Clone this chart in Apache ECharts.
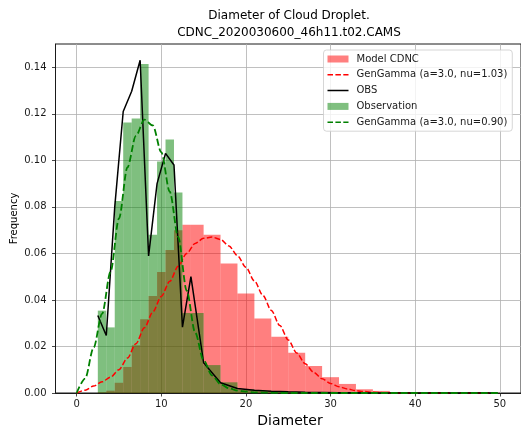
<!DOCTYPE html>
<html>
<head>
<meta charset="utf-8">
<script src="https://cdn.jsdelivr.net/npm/echarts@6/dist/echarts.min.js"></script>
<style>
  html, body { margin: 0; padding: 0; background: #fff; }
  #chart { width: 521px; height: 429px; }
</style>
</head>
<body>
<div id="chart"></div>
<script>
// Histogram bin edges (um) shared by both size distributions
const binEdges = [2.5, 3.5, 4.5, 5.5, 6.5, 7.5, 8.5, 9.5, 10.5, 11.5, 12.5, 13.5,
  15, 17, 19, 21, 23, 25, 27, 29, 31, 33, 35, 37, 39, 41, 43, 45, 47, 49];

// Normalised frequency per bin: model CDNC
const modelHist = [0.0003, 0.0010, 0.0044, 0.0112, 0.0205, 0.0317, 0.0417, 0.0520, 0.0615,
  0.0700, 0.0723, 0.0723, 0.0680, 0.0557, 0.0428, 0.0320, 0.0242, 0.0173, 0.0116, 0.0068,
  0.0039, 0.0016, 0.0009, 0.0004, 0.0002, 0.0001, 0.0001, 0.0000, 0.0000];

// Normalised frequency per bin: observation
const obsHist = [0.0354, 0.0282, 0.0825, 0.1163, 0.1180, 0.1414, 0.0680, 0.0995, 0.1090,
  0.0862, 0.0344, 0.0344, 0.0120, 0.0046, 0.0015, 0.0008, 0.0005, 0.0003, 0.0002, 0.0001,
  0.0001, 0.0000, 0.0000, 0.0000, 0.0000, 0.0000, 0.0000, 0.0000, 0.0000];

// Observed spectrum at bin mid-points
const obsX = [2.5, 3.5, 4.5, 5.5, 6.5, 7.5, 8.5, 9.5, 10.5, 11.5, 12.5, 13.5,
  15, 17, 19, 21, 23, 25, 27, 29, 31, 33, 35, 37, 39, 41, 43, 45, 47, 49];
const obsVals = [0.0333, 0.0247, 0.0800, 0.1210, 0.1297, 0.1430, 0.0589, 0.0900, 0.1030,
  0.0980, 0.0283, 0.0500, 0.0130, 0.0044, 0.0019, 0.0012, 0.0008, 0.0005, 0.0003, 0.0002,
  0.0001, 0.0001, 0.0000, 0.0000, 0.0000, 0.0000, 0.0000, 0.0000, 0.0000, 0.0000];

// Generalised gamma fits sampled at whole diameters 0..50
const fitX = [0, 1, 2, 3, 4, 5, 6, 7, 8, 9, 10, 11, 12, 13, 14, 15, 16, 17, 18, 19, 20,
  21, 22, 23, 24, 25, 26, 27, 28, 29, 30, 31, 32, 33, 34, 35, 36, 37, 38, 39, 40,
  41, 42, 43, 44, 45, 46, 47, 48, 49, 50];
const modelFit = [0, 0.0012, 0.0030, 0.0048, 0.0068, 0.0100, 0.0150, 0.0212, 0.0280, 0.0348,
  0.0415, 0.0480, 0.0545, 0.0600, 0.0643, 0.0665, 0.0670, 0.0660, 0.0632, 0.0590, 0.0540,
  0.0482, 0.0420, 0.0355, 0.0290, 0.0228, 0.0172, 0.0126, 0.0089, 0.0061, 0.0041,
  0.0027, 0.0017, 0.0010, 0.0006, 0.0003, 0.0002, 0.0001, 0, 0, 0,
  0, 0, 0, 0, 0, 0, 0, 0, 0, 0];
const obsFit = [0, 0.0062, 0.0195, 0.0340, 0.0520, 0.0750, 0.0970, 0.1105, 0.1175, 0.1150,
  0.1035, 0.0865, 0.0670, 0.0440, 0.0260, 0.0140, 0.0075, 0.0038, 0.0020, 0.0010, 0.0006,
  0.0003, 0.0002, 0.0001, 0, 0, 0, 0, 0, 0, 0,
  0, 0, 0, 0, 0, 0, 0, 0, 0, 0,
  0, 0, 0, 0, 0, 0, 0, 0, 0, 0];

const xTicks = [0, 10, 20, 30, 40, 50];
const yTicks = [0, 0.02, 0.04, 0.06, 0.08, 0.10, 0.12, 0.14];

const FONT = 'DejaVu Sans';

// Legend keys for the fitted/observed curves: a 21x7 box holding a 1.5px stroke
const BOX = 'M0,0h0.01v0.01h-0.01Z M21,7h-0.01v-0.01h0.01Z ';
const ICON_DASHED = 'path://' + BOX + 'M0,2.75h5.5v1.5h-5.5Z M7.9,2.75h5.5v1.5h-5.5Z M15.8,2.75h5.2v1.5h-5.2Z';
const ICON_SOLID = 'path://' + BOX + 'M0,2.75h21v1.5h-21Z';

function barsFrom(edges, heights) {
  return heights.map((h, i) => [edges[i], edges[i + 1], h]);
}
function pairs(xs, ys) {
  return xs.map((x, i) => [x, ys[i]]);
}
function renderBar(params, api) {
  const top = api.coord([api.value(0), api.value(2)]);
  const base = api.coord([api.value(1), 0]);
  return {
    type: 'rect',
    shape: { x: top[0], y: top[1], width: base[0] - top[0], height: base[1] - top[1] },
    style: api.style()
  };
}

const chart = echarts.init(document.getElementById('chart'), null, { renderer: 'canvas' });

chart.setOption({
  animation: false,
  backgroundColor: '#ffffff',
  textStyle: { fontFamily: FONT },
  grid: {
    left: 55.5, top: 44, width: 469.7, height: 349,
    show: true, borderColor: '#1a1a1a', borderWidth: 1, backgroundColor: 'transparent'
  },
  xAxis: {
    type: 'value', min: -2.5, max: 52.5, minInterval: 10, maxInterval: 10,
    axisLine: { show: true, onZero: false, lineStyle: { color: '#1a1a1a', width: 1 } },
    axisTick: { show: true, customValues: xTicks, length: 3.5, lineStyle: { color: '#1a1a1a', width: 0.8 } },
    axisLabel: {
      customValues: xTicks, margin: 6, fontSize: 10, color: '#1a1a1a', fontFamily: FONT,
      formatter: v => String(Math.round(v))
    },
    splitLine: { show: true, lineStyle: { color: '#b0b0b0', width: 0.8 } }
  },
  yAxis: {
    type: 'value', min: 0, max: 0.15, minInterval: 0.02, maxInterval: 0.02,
    axisLine: { show: true, onZero: false, lineStyle: { color: '#1a1a1a', width: 1 } },
    axisTick: { show: true, customValues: yTicks, length: 3.5, lineStyle: { color: '#1a1a1a', width: 0.8 } },
    axisLabel: {
      customValues: yTicks, margin: 9, fontSize: 10, color: '#1a1a1a', fontFamily: FONT,
      formatter: v => v.toFixed(2)
    },
    splitLine: { show: true, lineStyle: { color: '#b0b0b0', width: 0.8 } }
  },
  legend: {
    orient: 'vertical', left: 323.5, top: 50,
    padding: [3, 5, 3, 4], itemGap: 3.8, itemWidth: 21, itemHeight: 7,
    backgroundColor: 'rgba(255,255,255,0.8)', borderColor: '#cccccc', borderWidth: 0.8, borderRadius: 3,
    textStyle: { fontFamily: FONT, fontSize: 10, color: '#1a1a1a', lineHeight: 12, padding: [0, 0, 0, 3] },
    data: [
      { name: 'Model CDNC', icon: 'rect' },
      { name: 'GenGamma (a=3.0, nu=1.03)', icon: ICON_DASHED },
      { name: 'OBS', icon: ICON_SOLID },
      { name: 'Observation', icon: 'rect' },
      { name: 'GenGamma (a=3.0, nu=0.90)', icon: ICON_DASHED }
    ]
  },
  graphic: [
    {
      type: 'text', x: 289, y: 16,
      style: { text: 'Diameter of Cloud Droplet.', font: '12px "DejaVu Sans"', fill: '#000', align: 'center', verticalAlign: 'middle' }
    },
    {
      type: 'text', x: 289, y: 33,
      style: { text: 'CDNC_2020030600_46h11.t02.CAMS', font: '12px "DejaVu Sans"', fill: '#000', align: 'center', verticalAlign: 'middle' }
    },
    {
      type: 'text', x: 290, y: 421,
      style: { text: 'Diameter', font: '14px "DejaVu Sans"', fill: '#000', align: 'center', verticalAlign: 'middle' }
    },
    {
      type: 'text', x: 14, y: 218.5, rotation: Math.PI / 2,
      style: { text: 'Frequency', font: '10px "DejaVu Sans"', fill: '#000', align: 'center', verticalAlign: 'middle' }
    }
  ],
  series: [
    {
      name: 'Model CDNC', type: 'custom', renderItem: renderBar, clip: true, z: 1,
      itemStyle: { color: 'rgba(255,0,0,0.5)' },
      encode: { x: [0, 1], y: 2 },
      data: barsFrom(binEdges, modelHist)
    },
    {
      name: 'Observation', type: 'custom', renderItem: renderBar, clip: true, z: 2,
      itemStyle: { color: 'rgba(0,128,0,0.5)' },
      encode: { x: [0, 1], y: 2 },
      data: barsFrom(binEdges, obsHist)
    },
    {
      name: 'GenGamma (a=3.0, nu=1.03)', type: 'line', z: 3, symbol: 'none',
      smooth: 0.3, smoothMonotone: 'x',
      lineStyle: { color: '#ff0000', width: 1.5, type: [5.5, 2.4] },
      itemStyle: { color: '#ff0000' },
      data: pairs(fitX, modelFit)
    },
    {
      name: 'OBS', type: 'line', z: 4, symbol: 'none',
      lineStyle: { color: '#000000', width: 1.5 },
      itemStyle: { color: '#000000' },
      data: pairs(obsX, obsVals)
    },
    {
      name: 'GenGamma (a=3.0, nu=0.90)', type: 'line', z: 5, symbol: 'none',
      smooth: 0.3, smoothMonotone: 'x',
      lineStyle: { color: '#008000', width: 1.8, type: [7, 3] },
      itemStyle: { color: '#008000' },
      data: pairs(fitX, obsFit)
    }
  ]
});
</script>
</body>
</html>
